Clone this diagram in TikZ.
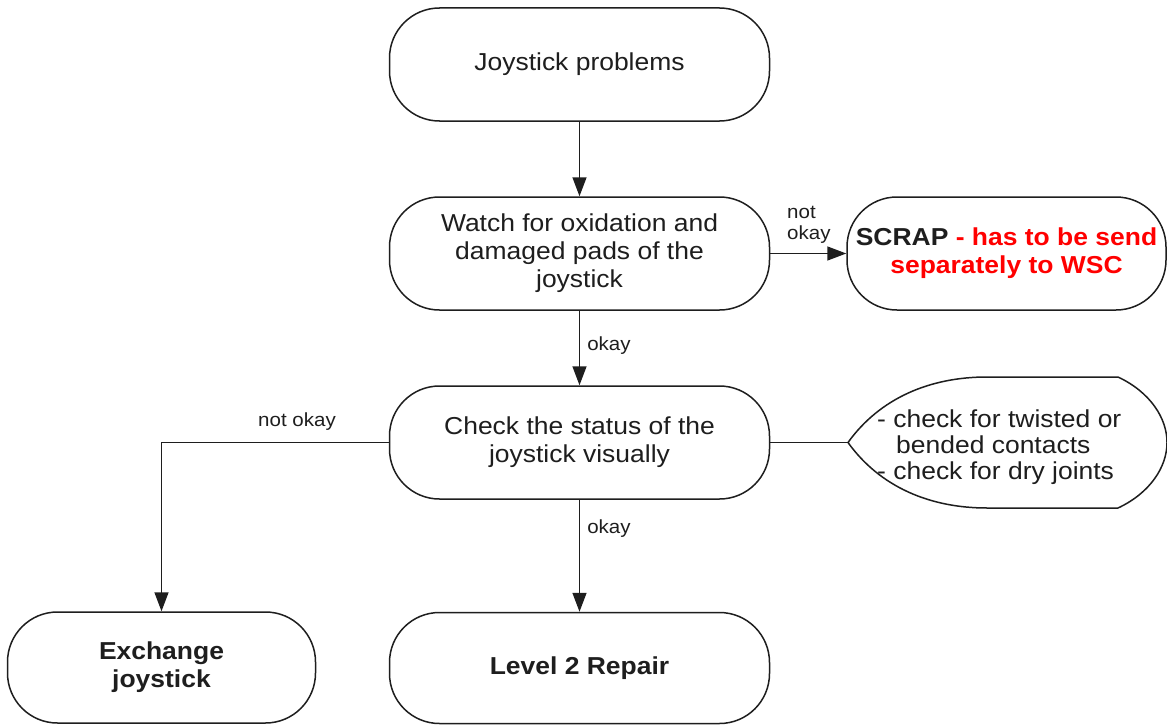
\documentclass[tikz,border=0pt]{standalone}
\usepackage{fontspec}
\setmainfont[FakeStretch=1.08]{Liberation Sans}
\usetikzlibrary{arrows.meta}
\definecolor{ink}{RGB}{30,30,30}
\definecolor{scrapred}{RGB}{255,0,0}
\begin{document}
\begin{tikzpicture}[x=1pt,y=-1pt,
  box/.style={draw=ink,line width=1.5pt,rounded corners=50pt,minimum width=380pt,minimum height=113pt,align=center,font=\fontsize{24.5}{28}\selectfont,text=ink,inner sep=0pt},
  arr/.style={draw=ink,line width=1.5pt,-{Triangle[length=19pt,width=14pt]}},
  plain/.style={draw=ink,line width=1.5pt},
  lbl/.style={font=\fontsize{19}{22}\selectfont,text=ink,inner sep=0pt}]
\useasboundingbox[fill=white] (0,0) rectangle (1167,725);

\node[box] (start) at (579.5,64.5) {Joystick problems};
\node[box] (watch) at (579.5,253.5) {Watch for oxidation and\\damaged pads of the\\joystick};
\node[box] (scrap) at (1006.5,253.5) [minimum width=319pt] {\textbf{SCRAP} \textcolor{scrapred}{\textbf{- has to be send}}\\\textcolor{scrapred}{\textbf{separately to WSC}}};
\node[box] (check) at (579.5,442.5) {Check the status of the\\joystick visually};
\node[box] (rep) at (579.5,668) [minimum height=111pt] {\textbf{Level 2 Repair}};
\node[box] (ex) at (161.5,667.5) [minimum width=308pt,minimum height=111pt] {\textbf{Exchange}\\\textbf{joystick}};

% annotation shape
\coordinate (tip) at (848,442.5);
\path[plain] (tip) .. controls (880,398) and (930,377) .. (987,377) -- (1118,377)
  .. controls (1150,392) and (1167,418) .. (1167,442.5)
  .. controls (1167,467) and (1150,493) .. (1118,508) -- (987,508)
  .. controls (930,508) and (880,487) .. (tip) -- cycle;
\node[anchor=west,align=left,font=\fontsize{24.5}{26}\selectfont,text=ink,inner sep=0pt] (note) at (877,447)
  {- check for twisted or\\\hspace*{19pt}bended contacts\\- check for dry joints};

% connectors
\draw[arr] (start.south) -- (watch.north);
\draw[arr] (watch.south) -- node[lbl,anchor=west,xshift=7pt,yshift=2pt] (l1) {okay} (check.north);
\draw[arr] (check.south) -- node[lbl,anchor=west,xshift=7pt,pos=0.26] (l2) {okay} (rep.north);
\draw[arr] (watch.east) -- (scrap.west);
\node[lbl,anchor=west,align=left,font=\fontsize{19}{21}\selectfont] (l3) at (787,225) {not\\okay};
\draw[arr] (check.west) -| (ex.north);
\node[lbl] (l4) at (297,422) {not okay};
\draw[plain] (check.east) -- (tip);
\end{tikzpicture}
\end{document}
